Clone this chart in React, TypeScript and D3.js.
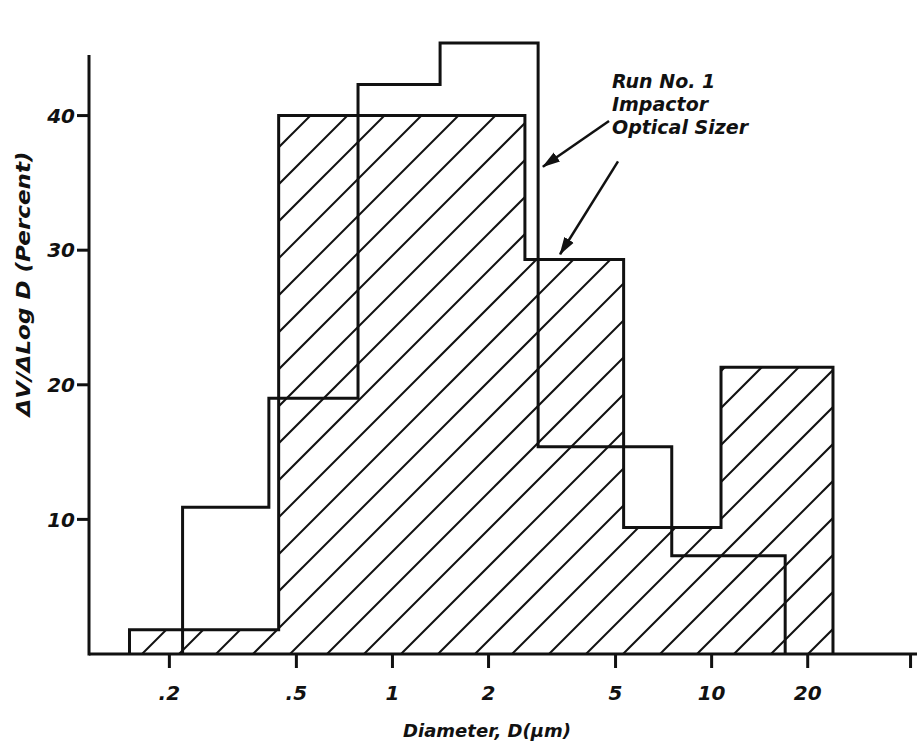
import React from "react";
import * as d3 from "d3";

// bin edges (µm) and heights (%)
const opticalEdges = [0.15, 0.44, 2.6, 5.3, 10.7, 24];
const opticalValues = [1.8, 40, 29.3, 9.4, 21.3];
const impactorEdges = [0.22, 0.41, 0.78, 1.41, 2.86, 7.5, 17];
const impactorValues = [10.9, 19.0, 42.3, 45.4, 15.4, 7.3];

const xTicks = [0.2, 0.5, 1, 2, 5, 10, 20, 42];
const xTickLabels = [".2", ".5", "1", "2", "5", "10", "20", ""];
const yTicks = [10, 20, 30, 40];

const legendLines = ["Run No. 1", "Impactor", "Optical Sizer"];
// arrows in data units: [D, value] tail -> head
const arrowTails = [[4.77, 39.6], [5.09, 36.6]];
const arrowHeads = [[2.96, 36.2], [3.35, 29.7]];

const W = 917;
const H = 743;
const font = "'DejaVu Sans', sans-serif";

// turns bin edges + heights into the outline of a step histogram
function stepPoints(edges: number[], values: number[]): [number, number][] {
  const pts: [number, number][] = [[edges[0], 0]];
  values.forEach((v, i) => {
    pts.push([edges[i], v]);
    pts.push([edges[i + 1], v]);
  });
  pts.push([edges[edges.length - 1], 0]);
  return pts;
}

export default function App() {
  const x = d3.scaleLog().domain([0.112, 44]).range([89, 917]);
  const y = d3.scaleLinear().domain([0, 44.5]).range([654, 55]);

  const line = d3
    .line<[number, number]>()
    .x((d) => x(d[0]))
    .y((d) => y(d[1]));

  const optical = line(stepPoints(opticalEdges, opticalValues)) || "";
  const impactor = line(stepPoints(impactorEdges, impactorValues)) || "";

  // hatch lines at 45 deg, 37px apart along the baseline
  const base = y(0);
  const hatch = d3.range(-20, 25).map((k) => 142 + 37 * k);

  const textStyle = {
    fontFamily: font,
    fontWeight: "bold" as const,
    fontStyle: "oblique" as const,
    fill: "#111",
  };

  return (
    <svg
      width={W}
      height={H}
      style={{ position: "absolute", left: 0, top: 0, background: "#fff" }}
    >
      <defs>
        <clipPath id="opticalClip">
          <path d={optical} />
        </clipPath>
        <marker
          id="head"
          viewBox="0 0 18 12"
          refX="17"
          refY="6"
          markerWidth="18"
          markerHeight="12"
          markerUnits="userSpaceOnUse"
          orient="auto"
        >
          <path d="M0,0.5 L18,6 L0,11.5 z" fill="#111" />
        </marker>
      </defs>
      <rect width={W} height={H} fill="#fff" />

      {/* hatching of the optical sizer histogram */}
      <g clipPath="url(#opticalClip)" stroke="#111" strokeWidth={2}>
        {hatch.map((x0, i) => (
          <line key={i} x1={x0} y1={base} x2={x0 + 650} y2={base - 650} />
        ))}
      </g>

      <path d={optical} fill="none" stroke="#111" strokeWidth={3} />
      <path d={impactor} fill="none" stroke="#111" strokeWidth={3} />

      {/* axes */}
      <g stroke="#111" strokeWidth={3}>
        <line x1={x.range()[0]} y1={base} x2={x.range()[1]} y2={base} />
        <line x1={x.range()[0]} y1={base + 1.5} x2={x.range()[0]} y2={y(44.5)} />
        {xTicks.map((t) => (
          <line key={t} x1={x(t)} y1={base} x2={x(t)} y2={base + 14} />
        ))}
        {yTicks.map((t) => (
          <line key={t} x1={x.range()[0] - 12} y1={y(t)} x2={x.range()[0]} y2={y(t)} />
        ))}
      </g>

      {xTicks.map((t, i) => (
        <text key={t} x={x(t)} y={base + 46} textAnchor="middle" fontSize={20} style={textStyle}>
          {xTickLabels[i]}
        </text>
      ))}
      {yTicks.map((t) => (
        <text
          key={t}
          x={x.range()[0] - 14}
          y={y(t)}
          dy="0.36em"
          textAnchor="end"
          fontSize={20}
          style={textStyle}
        >
          {t}
        </text>
      ))}

      <text x={487} y={737} textAnchor="middle" fontSize={18} style={textStyle}>
        Diameter, D(µm)
      </text>
      <text
        transform="translate(30, 284) rotate(-90)"
        textAnchor="middle"
        fontSize={19}
        textLength={265}
        lengthAdjust="spacingAndGlyphs"
        style={textStyle}
      >
        ΔV/ΔLog D (Percent)
      </text>

      {legendLines.map((s, i) => (
        <text key={s} x={612} y={88 + 23 * i} fontSize={19} style={textStyle}>
          {s}
        </text>
      ))}

      <g stroke="#111" strokeWidth={2.5}>
        {arrowTails.map((a, i) => (
          <line
            key={i}
            x1={x(a[0])}
            y1={y(a[1])}
            x2={x(arrowHeads[i][0])}
            y2={y(arrowHeads[i][1])}
            markerEnd="url(#head)"
          />
        ))}
      </g>
    </svg>
  );
}
